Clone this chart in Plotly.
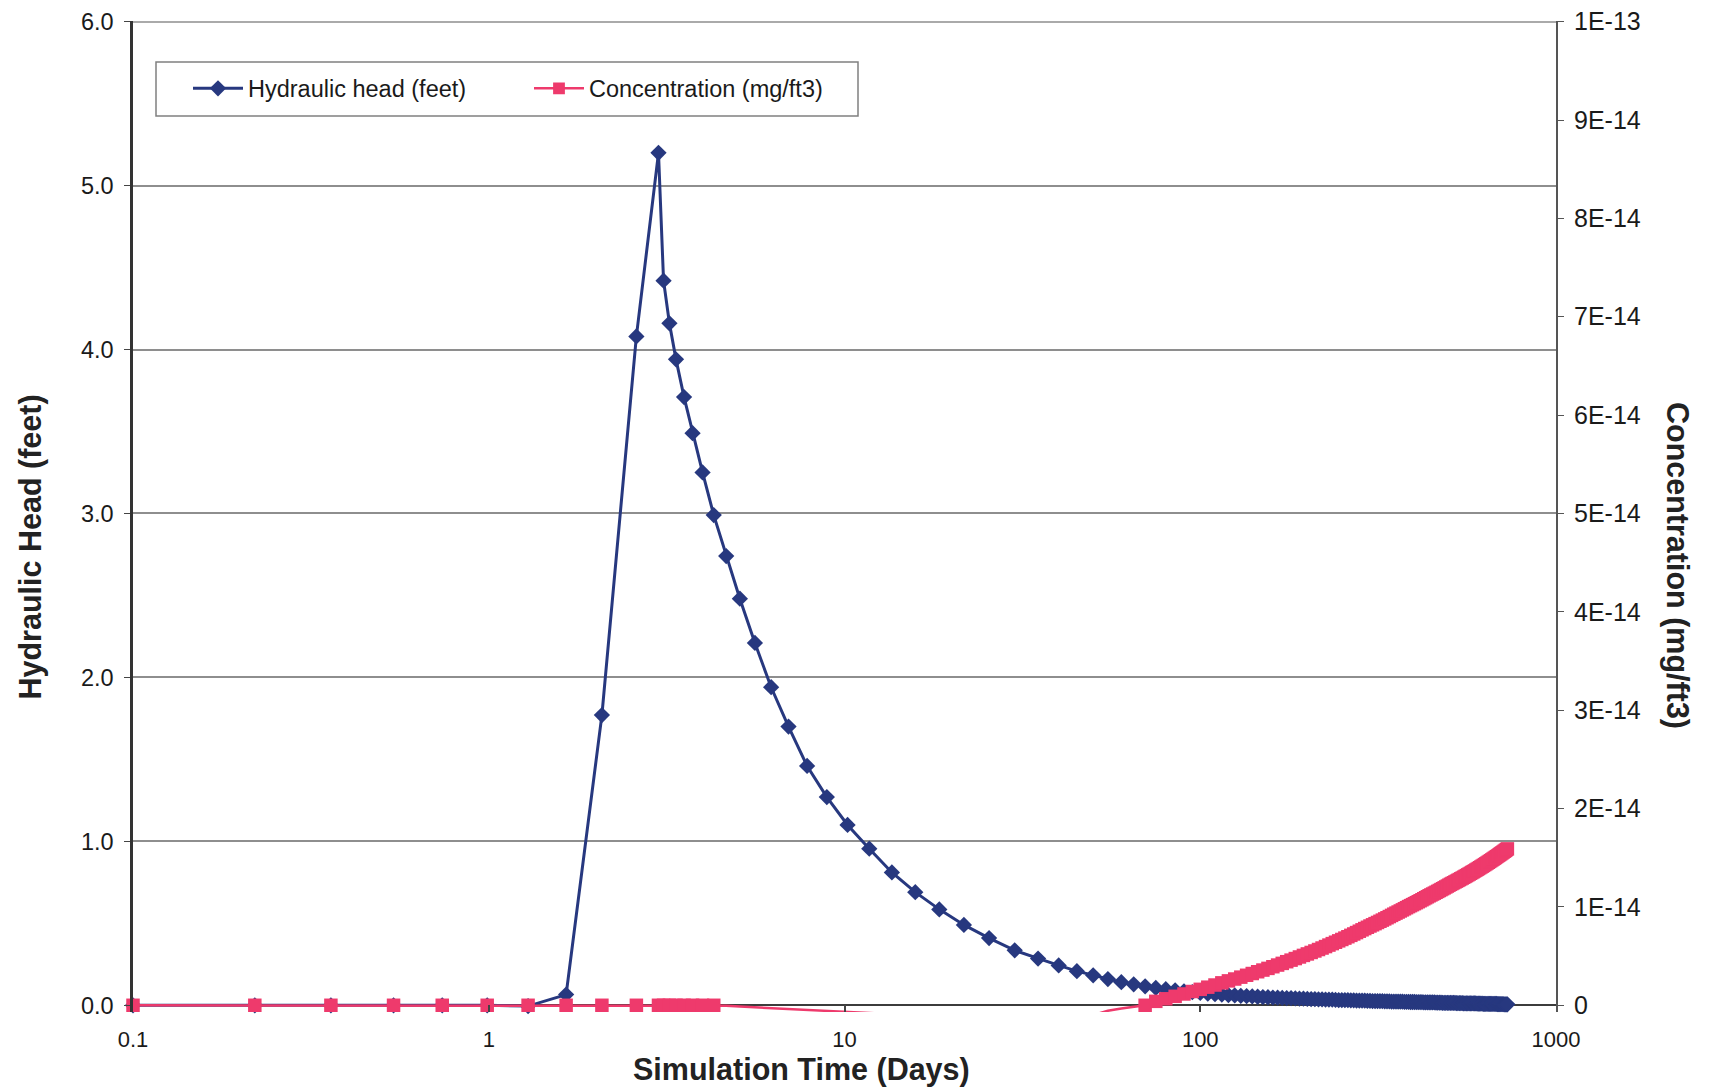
import plotly.graph_objects as go

# ---------------- data ----------------
# simulation output times, days
time_days = [
    0.1, 0.22, 0.36, 0.54, 0.74, 0.99, 1.29, 1.65, 2.08, 2.6, 3.0,
    3.1, 3.22, 3.36, 3.54, 3.74, 3.99, 4.29, 4.65, 5.08, 5.6, 6.22, 6.96,
    7.85, 8.92, 10.2, 11.74, 13.59, 15.81, 18.47, 21.66, 25.49, 30.09,
    35, 40, 45, 50, 55, 60, 65, 70, 75, 80, 85, 90, 95, 100, 105, 110, 115, 120,
    125, 130, 135, 140, 145, 150, 155, 160, 165, 170, 175, 180, 185, 190, 195, 200,
    205, 210, 215, 220, 225, 230, 235, 240, 245, 250,
    255, 260, 265, 270, 275, 280, 285, 290, 295, 300,
    305, 310, 315, 320, 325, 330, 335, 340, 345, 350,
    355, 360, 365, 370, 375, 380, 385, 390, 395, 400,
    405, 410, 415, 420, 425, 430, 435, 440, 445, 450,
    455, 460, 465, 470, 475, 480, 485, 490, 495, 500,
    505, 510, 515, 520, 525, 530, 535, 540, 545, 550,
    555, 560, 565, 570, 575, 580, 585, 590, 595, 600,
    605, 610, 615, 620, 625, 630, 635, 640, 645, 650,
    655, 660, 665, 670, 675, 680, 685, 690, 695, 700,
    705, 710, 715, 720, 725, 730,
]

# hydraulic head, feet (left axis)
head_ft = [
    0.0, 0.0, 0.0, 0.0, 0.0, 0.0, -0.005, 0.065, 1.77, 4.08, 5.20,
    4.42, 4.16, 3.94, 3.71, 3.49, 3.25, 2.99, 2.74, 2.48, 2.21, 1.94, 1.70,
    1.46, 1.27, 1.10, 0.955, 0.81, 0.69, 0.585, 0.49, 0.41, 0.335,
    0.285, 0.243, 0.208, 0.183, 0.160, 0.141, 0.128, 0.116, 0.106, 0.098, 0.091, 0.085,
    0.080, 0.075, 0.071, 0.068, 0.065, 0.062, 0.060, 0.058, 0.056, 0.054, 0.052, 0.050,
    0.049, 0.047, 0.046, 0.045, 0.044, 0.043, 0.042, 0.041, 0.040, 0.039,
    0.038, 0.037, 0.036, 0.036, 0.035, 0.034, 0.034, 0.033, 0.032, 0.032,
    0.031, 0.031, 0.030, 0.030, 0.029, 0.029, 0.028, 0.028, 0.027, 0.027,
    0.026, 0.026, 0.026, 0.025, 0.025, 0.024, 0.024, 0.024, 0.023, 0.023,
    0.023, 0.022, 0.022, 0.022, 0.021, 0.021, 0.021, 0.020, 0.020, 0.020,
    0.019, 0.019, 0.019, 0.019, 0.018, 0.018, 0.018, 0.017, 0.017, 0.017,
    0.017, 0.016, 0.016, 0.016, 0.016, 0.015, 0.015, 0.015, 0.015, 0.014,
    0.014, 0.014, 0.014, 0.014, 0.013, 0.013, 0.013, 0.013, 0.013, 0.012,
    0.012, 0.012, 0.012, 0.012, 0.011, 0.011, 0.011, 0.011, 0.011, 0.010,
    0.010, 0.010, 0.010, 0.010, 0.009, 0.009, 0.009, 0.009, 0.009, 0.009,
    0.008, 0.008, 0.008, 0.008, 0.008, 0.008, 0.007, 0.007, 0.007, 0.007,
    0.007, 0.007, 0.006, 0.006, 0.006, 0.006,
]

# concentration, in units of 1E-14 mg/ft3 (right axis)
conc_e14 = [
    0.0, 0.0, 0.0, 0.0, 0.0, 0.0, 0.0, 0.0, 0.0, 0.0, 0.0,
    0.0, 0.0, 0.0, 0.0, 0.0, 0.0, 0.0, -0.006, -0.013, -0.021, -0.029, -0.037,
    -0.046, -0.056, -0.067, -0.078, -0.090, -0.11, -0.14, -0.18, -0.22, -0.27,
    -0.30, -0.27, -0.20, -0.10, -0.055, -0.033, -0.014, 0.0,
    0.040, 0.066, 0.091, 0.115, 0.140, 0.162, 0.184, 0.206, 0.228, 0.248,
    0.267, 0.286, 0.305, 0.323, 0.341, 0.358, 0.375, 0.392, 0.409, 0.426,
    0.443, 0.459, 0.475, 0.491, 0.507, 0.522,
    0.537, 0.552, 0.567, 0.582, 0.597, 0.612, 0.627, 0.641, 0.655, 0.669,
    0.683, 0.697, 0.711, 0.725, 0.739, 0.753, 0.767, 0.780, 0.793, 0.806,
    0.818, 0.830, 0.842, 0.854, 0.866, 0.878, 0.890, 0.902, 0.914, 0.926,
    0.937, 0.948, 0.959, 0.970, 0.981, 0.992, 1.003, 1.013, 1.023, 1.033,
    1.043, 1.053, 1.063, 1.073, 1.083, 1.093, 1.103, 1.113, 1.122, 1.131,
    1.140, 1.149, 1.158, 1.167, 1.176, 1.185, 1.194, 1.203, 1.212, 1.221,
    1.230, 1.238, 1.246, 1.254, 1.262, 1.270, 1.278, 1.286, 1.294, 1.302,
    1.310, 1.318, 1.326, 1.334, 1.342, 1.350, 1.358, 1.366, 1.374, 1.382,
    1.390, 1.398, 1.406, 1.414, 1.422, 1.430, 1.438, 1.446, 1.454, 1.462,
    1.470, 1.478, 1.486, 1.494, 1.502, 1.510, 1.518, 1.526, 1.534, 1.542,
    1.550, 1.558, 1.566, 1.574, 1.582, 1.590,
]

x_tick_vals = [0.1, 1, 10, 100, 1000]
x_tick_text = ["0.1", "1", "10", "100", "1000"]
head_tick_vals = [0, 1, 2, 3, 4, 5, 6]
head_tick_text = ["0.0", "1.0", "2.0", "3.0", "4.0", "5.0", "6.0"]
conc_tick_vals_e14 = [0, 1, 2, 3, 4, 5, 6, 7, 8, 9, 10]
conc_tick_text = ["0", "1E-14", "2E-14", "3E-14", "4E-14", "5E-14",
                  "6E-14", "7E-14", "8E-14", "9E-14", "1E-13"]

# ---------------- derived ----------------
conc = [c * 1e-14 for c in conc_e14]
conc_ticks = [v * 1e-14 for v in conc_tick_vals_e14]
# like the spreadsheet, markers of values below the axis minimum are not drawn
conc_marker_size = [13.5 if c >= 0 else 0 for c in conc_e14]

BLUE = "#27387F"
PINK = "#EE3A6C"
FONT = "Liberation Sans, Arial, Helvetica, sans-serif"

head_min, head_max = -0.041, 6.004
conc_min, conc_max = head_min / 6.0 * 1e-13, head_max / 6.0 * 1e-13

# pixel layout helpers (plot area 133..1556 x 21..1012)
PL, PR, PT, PB = 133, 1556, 21, 1012


def px(x):
    return (x - PL) / (PR - PL)


def py(y):
    return (PB - y) / (PB - PT)


fig = go.Figure()
fig.add_trace(go.Scatter(
    x=time_days, y=head_ft, name="Hydraulic head (feet)", mode="lines+markers",
    line=dict(color=BLUE, width=3),
    marker=dict(symbol="diamond", size=12.5, color=BLUE, opacity=1,
                line=dict(width=0)),
    cliponaxis=False, yaxis="y", legendwidth=244,
))
fig.add_trace(go.Scatter(
    x=time_days, y=conc, name="Concentration (mg/ft3)", mode="lines+markers",
    line=dict(color=PINK, width=2.5),
    marker=dict(symbol="square", size=conc_marker_size, color=PINK, opacity=1,
                line=dict(width=0)),
    cliponaxis=False, yaxis="y2", legendwidth=250,
))

fig.update_layout(
    width=1712, height=1089,
    margin=dict(l=PL, r=1712 - PR, t=PT, b=1089 - PB, autoexpand=False),
    paper_bgcolor="white", plot_bgcolor="white",
    font=dict(family=FONT, size=22, color="#1a1a1a"),
    showlegend=True,
    legend=dict(
        orientation="h", x=px(156), y=py(88.5), xanchor="left", yanchor="middle",
        borderwidth=0, bgcolor="rgba(0,0,0,0)",
        font=dict(family=FONT, size=23.5, color="#1a1a1a"),
        itemwidth=50, indentation=32,
    ),
    shapes=[
        # legend frame
        dict(type="rect", xref="paper", yref="paper",
             x0=px(156), x1=px(858), y0=py(116), y1=py(62),
             line=dict(color="#808080", width=1.5), layer="above"),
        # top border of the plot area
        dict(type="line", xref="paper", yref="paper",
             x0=0, x1=1, y0=py(22), y1=py(22),
             line=dict(color="#8e8e8e", width=1.5), layer="below"),
    ],
    xaxis=dict(
        type="log", range=[-1, 3], tickvals=x_tick_vals, ticktext=x_tick_text,
        ticks="inside", ticklen=7, tickwidth=1.5, tickcolor="#444",
        showline=False, showgrid=False, zeroline=False, ticklabelstandoff=12,
        tickfont=dict(size=22),
    ),
    yaxis=dict(
        range=[head_min, head_max], tickvals=head_tick_vals, ticktext=head_tick_text,
        showgrid=True, gridcolor="#8e8e8e", gridwidth=1.5,
        zeroline=True, zerolinecolor="#3c3c3c", zerolinewidth=2,
        showline=True, linecolor="#333333", linewidth=2.5,
        ticks="outside", ticklen=6, tickcolor="#444", ticklabelstandoff=6,
        tickfont=dict(size=23.5),
    ),
    yaxis2=dict(
        overlaying="y", side="right", range=[conc_min, conc_max],
        tickvals=conc_ticks, ticktext=conc_tick_text,
        showgrid=False, zeroline=False,
        showline=True, linecolor="#555555", linewidth=2,
        ticks="outside", ticklen=6, tickcolor="#555", ticklabelstandoff=5,
        tickfont=dict(size=25),
    ),
    annotations=[
        dict(text="<b>Simulation Time (Days)</b>", x=px(801), y=py(1069),
             xref="paper", yref="paper", showarrow=False,
             xanchor="center", yanchor="middle",
             font=dict(family=FONT, size=30.5, color="#222")),
        dict(text="<b>Hydraulic Head (feet)</b>", x=px(29.5), y=py(547),
             xref="paper", yref="paper", showarrow=False, textangle=-90,
             xanchor="center", yanchor="middle",
             font=dict(family=FONT, size=30.5, color="#222")),
        dict(text="<b>Concentration (mg/ft3)</b>", x=px(1678), y=py(565),
             xref="paper", yref="paper", showarrow=False, textangle=90,
             xanchor="center", yanchor="middle",
             font=dict(family=FONT, size=30.5, color="#222")),
    ],
)

fig.write_html(
    "out.html",
    config={"displayModeBar": False},
    post_script="document.body.style.margin='0px';document.body.style.padding='0px';",
)
